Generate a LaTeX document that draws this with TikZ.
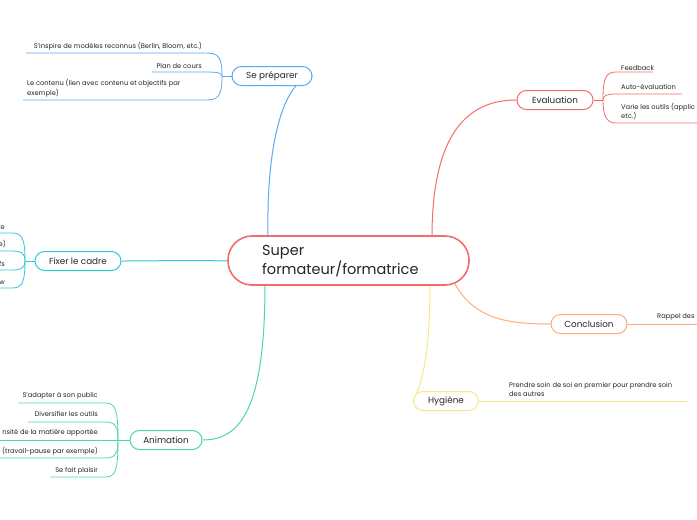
\documentclass[tikz,border=0pt]{standalone}
\usepackage{fontspec}
\setmainfont{Poppins}
\begin{document}
\begin{tikzpicture}[x=1pt,y=-1pt,
  box/.style={draw, line width=1pt, fill=white, rounded corners=9.5pt, minimum height=19pt, inner xsep=6pt, font=\fontsize{8.8}{10}\selectfont, text=black!85},
  lbl/.style={inner sep=0pt, font=\fontsize{6.7}{9.5}\selectfont, text=black!85, align=left},
  br/.style={line width=1pt},
  cl/.style={line width=0.8pt}]
\definecolor{cred}{HTML}{F26C6C}
\definecolor{cblue}{HTML}{5AAAEE}
\definecolor{cteal}{HTML}{2CCAD4}
\definecolor{cgreen}{HTML}{4CD8A8}
\definecolor{corange}{HTML}{FFAA7A}
\definecolor{cyellow}{HTML}{F6E88A}
\useasboundingbox (0,0) rectangle (697,520);
\fill[white] (0,0) rectangle (697,520);

% main connector ends
\coordinate (mtop1) at (268,237);
\coordinate (mtop2) at (432,237);
\coordinate (mleft) at (229,261);
\coordinate (mbot1) at (265,284);
\coordinate (mbot2) at (430,284);
\coordinate (mbot3) at (455,284);

% branch nodes (named, invisible placeholders for anchors)
\node[box, draw=none, fill=none, text=white!0, minimum width=80pt] (prep) at (272,76) {\phantom{Se préparer}};
\node[box, draw=none, fill=none, minimum width=86pt] (cadre) at (78,261) {\phantom{Fixer le cadre}};
\node[box, draw=none, fill=none, minimum width=72pt] (anim) at (166,440) {\phantom{Animation}};
\node[box, draw=none, fill=none, minimum width=76pt] (eval) at (555,100) {\phantom{Evaluation}};
\node[box, draw=none, fill=none, minimum width=76pt] (concl) at (589,324) {\phantom{Conclusion}};
\node[box, draw=none, fill=none, minimum width=65pt] (hyg) at (446,401) {\phantom{Hygiène}};

\draw[br, cblue] (mtop1) .. controls (266,130) and (288,78) .. (prep.east);
\draw[br, cred] (mtop2) .. controls (432,130) and (470,100) .. (eval.west);
\draw[br, cteal] (mleft) .. controls (180,260) and (160,261) .. (cadre.east);
\draw[br, cgreen] (mbot1) .. controls (265,410) and (240,440) .. (anim.east);
\draw[br, corange] (mbot3) .. controls (475,320) and (510,324) .. (concl.west);
\draw[br, cyellow] (mbot2) .. controls (430,370) and (418,390) .. (hyg.west);

% visible boxes
\node[box, draw=cblue, minimum width=80pt] (prepB) at (prep.center) {Se préparer};
\node[box, draw=cteal, minimum width=86pt] (cadreB) at (cadre.center) {Fixer le cadre};
\node[box, draw=cgreen, minimum width=72pt] (animB) at (anim.center) {Animation};
\node[box, draw=cred, minimum width=76pt] (evalB) at (eval.center) {Evaluation};
\node[box, draw=corange, minimum width=76pt] (conclB) at (concl.center) {Conclusion};
\node[box, draw=cyellow, minimum width=65pt] (hygB) at (hyg.center) {Hygiène};

% central node
\node[draw=cred, line width=1.6pt, fill=white, rounded corners=24pt, minimum width=241pt, minimum height=49pt] (main) at (348.5,260.5) {};
\node[anchor=west, inner sep=0pt, align=left, font=\fontsize{14.5}{19}\selectfont, text=black!85] (maintxt) at (262,261.5) {Super\\formateur/formatrice};

% ---- Se préparer children
\coordinate (pf) at (222,76);
\draw[cl, cblue] (prep.west) -- (pf);
\node[lbl, anchor=south east] (p1) at (202,50) {S’inspire de modèles reconnus (Berlin, Bloom, etc.)};
\node[lbl, anchor=south east] (p2) at (202,69) {Plan de cours};
\node[lbl, anchor=south west] (p3) at (27,97) {Le contenu (lien avec contenu et objectifs par\\exemple)};
\draw[cl, cblue] (pf) .. controls (222,56) and (218,53) .. (205,53) -- (26,53);
\draw[cl, cblue] (pf) .. controls (222,73) and (218,72) .. (205,72) -- (152,72);
\draw[cl, cblue] (pf) .. controls (222,97) and (218,100) .. (205,100) -- (23,100);

% ---- Fixer le cadre children
\coordinate (cf) at (25,261);
\draw[cl, cteal] (cadre.west) -- (cf);
\node[lbl, anchor=south east] (c1) at (5,230) {re};
\node[lbl, anchor=south east] (c2) at (6,248) {e)};
\node[lbl, anchor=south east] (c3) at (5,267) {fs};
\node[lbl, anchor=south east] (c4) at (5,285) {w};
\draw[cl, cteal] (cf) .. controls (25,238) and (22,233) .. (12,233) -- (0,233);
\draw[cl, cteal] (cf) .. controls (25,254) and (22,251) .. (12,251) -- (0,251);
\draw[cl, cteal] (cf) .. controls (25,267) and (22,270) .. (12,270) -- (0,270);
\draw[cl, cteal] (cf) .. controls (25,283) and (22,288) .. (12,288) -- (0,288);

% ---- Animation children
\coordinate (af) at (118,440);
\draw[cl, cgreen] (anim.west) -- (af);
\node[lbl, anchor=south east] (a1) at (98,399) {S’adapter à son public};
\node[lbl, anchor=south east] (a2) at (98,417) {Diversifier les outils};
\node[lbl, anchor=south east] (a3) at (98,436) {nsité de la matière apportée};
\node[lbl, anchor=south east] (a4) at (98,455) {(travail-pause par exemple)};
\node[lbl, anchor=south east] (a5) at (98,474) {Se fait plaisir};
\draw[cl, cgreen] (af) .. controls (118,408) and (115,403) .. (105,403) -- (18,403);
\draw[cl, cgreen] (af) .. controls (118,426) and (115,422) .. (105,422) -- (28,422);
\draw[cl, cgreen] (af) -- (0,440);
\draw[cl, cgreen] (af) .. controls (118,454) and (115,458) .. (105,458) -- (0,458);
\draw[cl, cgreen] (af) .. controls (118,472) and (115,477) .. (105,477) -- (50,477);

% ---- Evaluation children
\coordinate (ef) at (603,100);
\draw[cl, cred] (eval.east) -- (ef);
\node[lbl, anchor=south west] (e1) at (621,71) {Feedback};
\node[lbl, anchor=south west] (e2) at (621,90) {Auto-évaluation};
\node[lbl, anchor=south west] (e3) at (621,120) {Varie les outils (applic\\etc.)};
\draw[cl, cred] (ef) .. controls (603,78) and (606,72) .. (616,72) -- (653,72);
\draw[cl, cred] (ef) .. controls (603,96) and (606,94) .. (616,94) -- (682,94);
\draw[cl, cred] (ef) .. controls (603,115) and (606,123) .. (616,123) -- (697,123);

% ---- Conclusion child
\node[lbl, anchor=south west] (k1) at (657,320) {Rappel des};
\draw[cl, corange] (concl.east) -- (697,324);

% ---- Hygiène child
\node[lbl, anchor=south west] (h1) at (509,397) {Prendre soin de soi en premier pour prendre soin\\des autres};
\draw[cl, cyellow] (hyg.east) -- (687,401);
\end{tikzpicture}
\end{document}
